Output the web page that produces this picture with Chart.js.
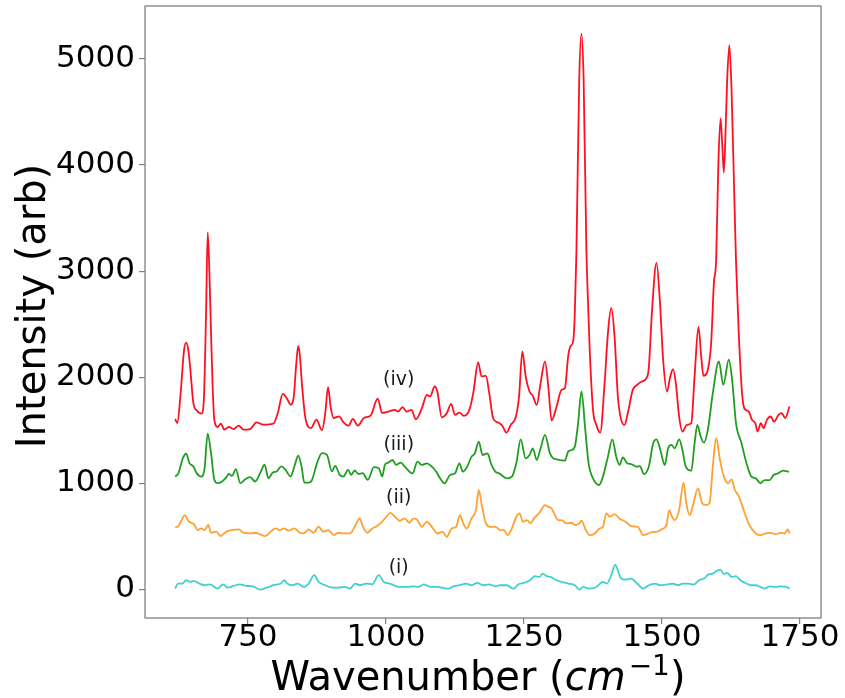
<!DOCTYPE html>
<html>
<head>
<meta charset="utf-8">
<script src="https://cdn.jsdelivr.net/npm/chart.js@4.4.1/dist/chart.umd.min.js"></script>
<style>
html,body{margin:0;padding:0;background:#fff;}
#wrap{width:845px;height:698px;}
</style>
</head>
<body>
<div id="wrap"><canvas id="c" width="845" height="698" style="width:845px;height:698px;"></canvas></div>
<script>
// ---------- data ----------
const xTicks = [750, 1000, 1250, 1500, 1750];
const yTicks = [0, 1000, 2000, 3000, 4000, 5000];

const ivWave = [618,622,628,634,638,642,645,651,657,666,670,674,677,680,683,686,689,695,701,707,715,724,733,742,754,765,778,796,804,813,821,827,833,837,841,844,848,854,864,874,884,890,895,900,905,915,923,932,940,949,960,972,985,993,1004,1016,1022,1030,1037,1046,1054,1065,1074,1080,1088,1093,1101,1110,1118,1125,1133,1141,1151,1158,1167,1173,1181,1187,1194,1203,1211,1218,1226,1235,1241,1247,1253,1260,1266,1273,1280,1288,1294,1300,1309,1318,1324,1330,1334,1339,1342,1345,1350,1354,1358,1363,1366,1369,1375,1381,1388,1396,1402,1408,1414,1420,1426,1432,1438,1447,1455,1463,1472,1476,1482,1490,1496,1502,1509,1515,1520,1525,1531,1537,1545,1553,1559,1566,1571,1575,1581,1589,1594,1598,1602,1606,1609,1612,1615,1618,1622,1626,1630,1634,1639,1645,1649,1657,1663,1669,1673,1679,1684,1690,1697,1703,1711,1717,1723,1731];
const ivIntensity = [1606,1568,1850,2250,2325,2250,2104,1757,1688,1656,1789,2600,3366,3000,2420,1900,1600,1530,1562,1505,1530,1511,1543,1505,1511,1574,1552,1562,1663,1842,1795,1741,1820,2100,2294,2200,1915,1615,1521,1600,1499,1663,1906,1710,1615,1631,1574,1543,1606,1543,1615,1637,1798,1663,1676,1691,1676,1717,1676,1691,1603,1707,1833,1818,1912,1865,1622,1660,1748,1644,1666,1635,1691,1849,2139,2007,2013,1849,1613,1572,1540,1477,1550,1622,1818,2243,2007,1865,1824,1739,1944,2148,1912,1591,1723,1881,1896,2196,2290,2337,2600,3200,4800,5240,4800,3200,2700,2258,1692,1550,1477,1944,2416,2652,2385,1818,1597,1550,1660,1880,1928,1959,1991,2085,2637,3078,2731,2164,1865,2007,2076,1944,1629,1487,1550,1566,2007,2473,2196,2013,2038,2322,2889,3100,4000,4440,4200,3930,4300,4800,5130,4700,3900,3100,2416,1849,1707,1676,1597,1566,1487,1566,1518,1597,1629,1581,1644,1660,1613,1723];

const iiiWave = [618,624,632,638,644,651,657,665,671,677,683,689,695,703,711,715,721,728,736,745,754,763,772,780,787,795,802,810,818,827,834,841,847,852,860,866,875,884,893,902,908,916,923,931,937,943,950,958,967,978,987,993,998,1004,1012,1018,1027,1034,1048,1057,1065,1074,1083,1091,1098,1106,1116,1125,1133,1139,1147,1155,1161,1168,1175,1184,1190,1198,1205,1213,1219,1228,1236,1244,1253,1260,1266,1273,1280,1288,1297,1303,1309,1324,1330,1336,1342,1348,1354,1361,1367,1375,1386,1393,1402,1410,1417,1423,1429,1437,1444,1454,1460,1467,1476,1484,1490,1497,1505,1511,1517,1523,1531,1537,1543,1553,1559,1564,1570,1576,1583,1592,1603,1611,1621,1627,1634,1644,1653,1662,1670,1678,1686,1695,1702,1710,1719,1730];
const iiiIntensity = [1063,1095,1237,1278,1189,1158,1095,1063,1126,1467,1284,1032,1000,1016,1057,1088,1070,1133,1000,1038,1057,1016,1095,1174,1047,1101,1111,1158,1126,1063,1158,1259,1158,1006,1006,1032,1189,1284,1268,1111,1164,1079,1063,1126,1079,1120,1088,1095,1032,1152,1142,1063,1172,1194,1219,1172,1194,1156,1093,1203,1172,1188,1156,1109,1046,999,1077,1093,1188,1109,1156,1251,1282,1392,1266,1282,1188,1109,1093,1062,1046,1062,1188,1414,1235,1266,1329,1219,1329,1455,1282,1235,1225,1213,1298,1313,1345,1566,1865,1503,1188,1046,983,1062,1251,1414,1251,1172,1244,1188,1181,1156,1162,1087,1156,1377,1414,1313,1172,1329,1361,1329,1414,1313,1156,1118,1377,1550,1440,1383,1503,1849,2148,1928,2164,1975,1566,1377,1188,1062,1046,999,1030,1030,1077,1093,1118,1109];

const iiWave = [618,624,630,635,643,652,659,665,671,678,683,693,700,711,721,733,742,754,763,772,781,791,800,807,815,824,834,844,851,860,869,878,886,896,905,914,925,935,945,952,958,966,975,984,993,1000,1008,1016,1025,1034,1042,1050,1057,1065,1074,1085,1093,1103,1110,1119,1127,1134,1140,1146,1155,1163,1168,1174,1181,1189,1198,1207,1214,1220,1228,1236,1242,1248,1255,1262,1268,1278,1288,1294,1300,1306,1312,1318,1327,1336,1342,1350,1354,1362,1369,1378,1387,1393,1399,1406,1414,1423,1434,1444,1456,1466,1475,1484,1490,1499,1508,1513,1517,1523,1531,1539,1544,1550,1557,1565,1573,1580,1586,1592,1598,1605,1612,1620,1626,1632,1638,1644,1652,1660,1670,1678,1688,1696,1706,1714,1722,1728,1731];
const iiIntensity = [584,596,653,700,637,615,558,574,558,606,533,543,502,543,558,565,533,527,533,517,502,543,574,558,574,552,574,533,527,565,533,590,543,558,511,533,527,527,606,669,590,533,574,596,637,680,721,684,646,668,627,668,652,589,636,573,526,542,494,573,589,699,621,573,668,747,936,778,621,589,589,558,558,510,573,684,715,636,652,621,668,721,794,778,762,699,652,652,621,627,605,621,646,558,510,526,573,589,715,684,709,668,636,595,589,510,526,542,542,564,605,747,699,652,747,1005,810,699,810,951,810,794,810,1156,1424,1219,1062,999,1036,936,888,810,684,589,526,510,526,532,520,532,526,564,526];

const iWave = [618,623,631,638,645,651,662,672,681,695,705,713,724,735,747,759,772,784,796,809,816,821,831,840,851,860,870,878,890,902,914,925,935,944,953,964,975,987,996,1007,1019,1028,1040,1050,1059,1068,1080,1092,1101,1113,1122,1134,1145,1155,1165,1176,1187,1198,1207,1219,1231,1240,1250,1261,1270,1278,1284,1291,1298,1309,1318,1330,1342,1350,1357,1368,1381,1388,1393,1400,1408,1415,1420,1426,1434,1444,1455,1466,1476,1487,1496,1508,1519,1529,1538,1547,1557,1567,1576,1585,1592,1599,1606,1612,1618,1626,1634,1642,1653,1662,1670,1678,1686,1695,1706,1716,1725,1731];
const iIntensity = [6,54,54,85,69,79,54,38,47,6,47,16,32,47,32,28,-3,16,38,54,85,54,38,54,22,54,133,69,38,16,16,22,6,54,38,54,47,133,69,54,28,22,22,28,22,47,22,22,16,6,28,38,54,38,60,38,47,28,38,38,6,47,60,85,123,117,148,123,117,85,69,54,38,-3,22,6,22,54,69,54,132,233,180,101,91,101,54,6,38,54,38,44,54,38,54,54,44,85,101,142,148,173,186,142,154,117,123,85,54,38,38,22,6,28,22,28,22,6];

const seriesNames = ['(i)', '(ii)', '(iii)', '(iv)'];
const labelWave = [1023, 1023, 1023, 1023];
const labelIntensity = [198, 860, 1361, 1975];

const xTitleParts = ['Wavenumber (', 'cm', '\u22121', ')'];
const yTitle = 'Intensity (arb)';

// ---------- chart ----------
const colors = ['#40d0d0', '#ffa030', '#1f9e1f', '#ff1020'];
const waves = [iWave, iiWave, iiiWave, ivWave];
const vals = [iIntensity, iiIntensity, iiiIntensity, ivIntensity];

const datasets = waves.map((w, k) => ({
  label: seriesNames[k],
  data: w.map((x, j) => ({ x: x, y: vals[k][j] })),
  borderColor: colors[k],
  borderWidth: 1.8,
  pointRadius: 0,
  fill: false,
  cubicInterpolationMode: 'monotone',
  order: k
}));

const FONT = '"DejaVu Sans", sans-serif';

const decor = {
  id: 'decor',
  afterDraw(chart) {
    const ctx = chart.ctx, a = chart.chartArea;
    const xs = chart.scales.x, ys = chart.scales.y;
    ctx.save();
    ctx.strokeStyle = '#808080';
    ctx.lineWidth = 1.3;
    ctx.strokeRect(a.left, a.top, a.right - a.left, a.bottom - a.top);

    ctx.fillStyle = '#1a1a1a';
    ctx.font = '19px ' + FONT;
    ctx.textAlign = 'center';
    ctx.textBaseline = 'middle';
    for (let k = 0; k < seriesNames.length; k++) {
      ctx.fillText(seriesNames[k], xs.getPixelForValue(labelWave[k]), ys.getPixelForValue(labelIntensity[k]));
    }

    // y title
    ctx.save();
    ctx.fillStyle = '#000';
    ctx.font = '40px ' + FONT;
    ctx.translate(35, 306);
    ctx.rotate(-Math.PI / 2);
    ctx.textAlign = 'center';
    ctx.textBaseline = 'middle';
    ctx.fillText(yTitle, 0, 0);
    ctx.restore();

    // x title with italic cm and superscript
    const fonts = ['40px ' + FONT, 'italic 40px ' + FONT, '28px ' + FONT, '40px ' + FONT];
    const rise = [0, 0, 15, 0];
    const gap = [0, 0, 3, 0];
    let widths = xTitleParts.map((t, k) => { ctx.font = fonts[k]; return ctx.measureText(t).width + gap[k]; });
    const total = widths.reduce((p, q) => p + q, 0);
    let xx = 478 - total / 2;
    const base = 690;
    ctx.fillStyle = '#000';
    ctx.textAlign = 'left';
    ctx.textBaseline = 'alphabetic';
    xTitleParts.forEach((t, k) => {
      ctx.font = fonts[k];
      ctx.fillText(t, xx + gap[k], base - rise[k]);
      xx += widths[k];
    });
    ctx.restore();
  }
};

new Chart(document.getElementById('c'), {
  type: 'line',
  data: { datasets: datasets },
  options: {
    responsive: false,
    animation: false,
    devicePixelRatio: 1,
    layout: { padding: { top: 6, right: 24, bottom: 0, left: 0 } },
    plugins: { legend: { display: false }, tooltip: { enabled: false } },
    scales: {
      x: {
        type: 'linear',
        min: 563.4,
        max: 1788,
        afterBuildTicks: s => { s.ticks = xTicks.map(v => ({ value: v })); },
        afterFit: s => { s.height = 80; s.paddingLeft = 0; s.paddingRight = 0; },
        ticks: { font: { family: FONT, size: 31 }, color: '#000', padding: -5, maxRotation: 0, autoSkip: false, callback: v => String(v) },
        grid: { drawOnChartArea: false, drawTicks: true, tickLength: 6, color: '#808080', lineWidth: 1.2 },
        border: { display: false }
      },
      y: {
        type: 'linear',
        min: -271,
        max: 5500,
        afterBuildTicks: s => { s.ticks = yTicks.map(v => ({ value: v })); },
        afterFit: s => { s.width = 145; s.paddingTop = 0; s.paddingBottom = 0; },
        ticks: { font: { family: FONT, size: 31 }, color: '#000', padding: 4, autoSkip: false, callback: v => String(v) },
        grid: { drawOnChartArea: false, drawTicks: true, tickLength: 6, color: '#808080', lineWidth: 1.2 },
        border: { display: false }
      }
    }
  },
  plugins: [decor]
});
</script>
</body>
</html>
